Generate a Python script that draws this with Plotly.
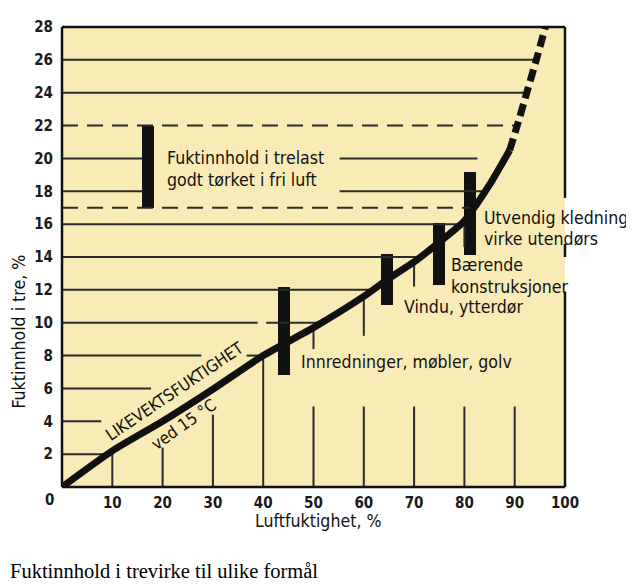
import numpy as np
import plotly.graph_objects as go

# ---- data ----
rh_solid = [0, 10, 20, 30, 40, 50, 60, 65, 70, 75, 80, 85, 89]
mc_solid = [0, 2.2, 4.0, 5.95, 8.0, 9.7, 11.6, 12.7, 13.7, 14.9, 16.2, 18.4, 20.5]
rh_dash = [89, 90.5, 92.4, 94.3, 96.1]
mc_dash = [20.5, 22, 24, 26, 28]

bar_names = ["Trelast", "Innredninger", "Vindu", "Bærende", "Utvendig"]
bar_rh = [17.1, 44.2, 64.6, 74.9, 81.2]
bar_low = [17.0, 6.8, 11.1, 12.3, 14.1]
bar_high = [22.0, 12.2, 14.2, 16.1, 19.2]

x_ticks = [10, 20, 30, 40, 50, 60, 70, 80, 90, 100]
y_ticks = [2, 4, 6, 8, 10, 12, 14, 16, 18, 20, 22, 24, 26, 28]

# ---- helpers ----
rh_all = rh_solid + rh_dash[1:]
mc_all = mc_solid + mc_dash[1:]
def x_at(y):
    return float(np.interp(y, mc_all, rh_all))
def y_at(x):
    return float(np.interp(x, rh_all, mc_all))

C = "curve"
# horizontal grid segments: (y, [(x0, x1), ...], dashed)
hsegs = [
    (2, [(0, C)], False), (4, [(0, 7.8)], False), (6, [(0, 17.7)], False),
    (8, [(0, 27.7), (36.7, C)], False), (10, [(0, 38.9), (40.6, C)], False),
    (12, [(0, C)], False), (14, [(0, C)], False), (16, [(0, C)], False),
    (17, [(0, C)], True), (18, [(0, 16), (55.2, C)], False),
    (20, [(0, 16), (55.2, 82.6)], False), (22, [(0, C)], True),
    (24, [(0, C)], False), (26, [(0, C)], False),
]
# vertical grid segments: (x, [(y0, y1), ...])
vsegs = [
    (10, [(0, C)]), (20, [(0, 2.4)]), (30, [(0, 4.4)]), (40, [(0, C)]),
    (50, [(0, 4.9), (8.4, C)]), (60, [(0, 4.9), (9.2, C)]),
    (70, [(0, 4.9), (12.2, C)]), (80, [(0, 4.9), (14.6, C)]), (90, [(0, 4.9)]),
]
# right frame edge is interrupted where the labels cross it (in y units)
right_frame = [(0, 11.9), (14.0, 14.8), (17.6, 28)]

GRID = "#2b2b2b"
INK = "#111111"
FONT = "DejaVu Sans Condensed, Liberation Sans Narrow, Arial Narrow, sans-serif"
TS = 17.6

fig = go.Figure()

def add_hgrid(dashed):
    xs, ys = [], []
    for y, segs, d in hsegs:
        if d != dashed:
            continue
        for x0, x1 in segs:
            x1v = x_at(y) if x1 == C else x1
            xs += [x0, x1v, None]
            ys += [y, y, None]
    fig.add_trace(go.Scatter(x=xs, y=ys, mode="lines", hoverinfo="skip",
                             line=dict(color=GRID, width=2,
                                       dash="16px,9px" if dashed else "solid"),
                             showlegend=False))

add_hgrid(False)
add_hgrid(True)

vx, vy = [], []
for x, segs in vsegs:
    for y0, y1 in segs:
        y1v = y_at(x) if y1 == C else y1
        vx += [x, x, None]
        vy += [y0, y1v, None]
fig.add_trace(go.Scatter(x=vx, y=vy, mode="lines", hoverinfo="skip",
                         line=dict(color=GRID, width=2), showlegend=False))

# bars of recommended moisture ranges
fig.add_trace(go.Bar(x=bar_rh, y=[h - l for h, l in zip(bar_high, bar_low)],
                     base=bar_low, width=2.4, marker=dict(color=INK, line=dict(width=0)),
                     hovertext=bar_names, showlegend=False))

# equilibrium curve
fig.add_trace(go.Scatter(x=rh_solid, y=mc_solid, mode="lines",
                         line=dict(color=INK, width=7, shape="spline", smoothing=0.6),
                         showlegend=False))
fig.add_trace(go.Scatter(x=rh_dash, y=mc_dash, mode="lines",
                         line=dict(color=INK, width=7, dash="12px,6px", shape="spline",
                                   smoothing=0.6),
                         showlegend=False))

def note(text, x, y, size=TS, angle=0, xanchor="left", xref="x", yref="y", family=FONT,
         color=INK):
    fig.add_annotation(text=text, x=x, y=y, xref=xref, yref=yref, showarrow=False,
                       xanchor=xanchor, yanchor="middle", textangle=angle,
                       font=dict(family=family, size=size, color=color))

note("Fuktinnhold i trelast", 20.5, 20.05)
note("godt tørket i fri luft", 20.5, 18.7)
note("Utvendig kledning,", 83.5, 16.4)
note("virke utendørs", 83.5, 15.1)
note("Bærende", 77.0, 13.5)
note("konstruksjoner", 77.0, 12.2)
note("Vindu, ytterdør", 67.5, 10.95)
note("Innredninger, møbler, golv", 47.2, 7.6)
note("LIKEVEKTSFUKTIGHET", 22.4, 5.8, size=16.6, angle=-34, xanchor="center")
note("ved 15 °C", 24.2, 3.85, size=16.8, angle=-35, xanchor="center")

# texts outside the plotting area use paper coordinates
note("Luftfuktighet, %", 0.509, -0.073, size=TS, xanchor="center",
     xref="paper", yref="paper")
note("Fuktinnhold i tre, %", -0.0845, 0.339, size=TS, angle=-90, xanchor="center",
     xref="paper", yref="paper")
fig.add_annotation(text="<b>0</b>", x=-0.025, y=-0.0286, xref="paper", yref="paper",
                   showarrow=False, xanchor="center", yanchor="middle",
                   font=dict(family=FONT, size=15, color="#1a1a1a"))
note("Fuktinnhold i trevirke til ulike formål", -0.108, -0.183, size=20.5,
     xref="paper", yref="paper", family="Liberation Serif, DejaVu Serif, serif",
     color="#000000")

# frame (the right edge has gaps where labels run across it)
frame = [
    dict(type="line", xref="paper", yref="paper", x0=0, x1=0, y0=0, y1=1),
    dict(type="line", xref="paper", yref="paper", x0=0, x1=1, y0=0, y1=0),
    dict(type="line", xref="paper", yref="paper", x0=0, x1=1, y0=1, y1=1),
]
for y0, y1 in right_frame:
    frame.append(dict(type="line", xref="paper", yref="y", x0=1, x1=1, y0=y0, y1=y1))
for s in frame:
    s["line"] = dict(color=INK, width=2.5)
    s["layer"] = "above"

# the page body has an 8px margin, so the figure is offset by 8px
fig.update_layout(
    width=626, height=577,
    margin=dict(l=54, r=69, t=10, b=98),
    paper_bgcolor="white", plot_bgcolor="#F9EBB5",
    bargap=0,
    font=dict(family=FONT, color="#1a1a1a"),
    shapes=frame,
)
fig.update_xaxes(range=[0, 100], tickvals=x_ticks, ticks="", showgrid=False,
                 zeroline=False, showline=False,
                 tickfont=dict(family=FONT, size=15, color="#1a1a1a", weight="bold"),
                 ticklabelstandoff=5)
fig.update_yaxes(range=[0, 28], tickvals=y_ticks, ticks="", showgrid=False,
                 zeroline=False, showline=False,
                 tickfont=dict(family=FONT, size=15, color="#1a1a1a", weight="bold"),
                 ticklabelstandoff=8)

fig.write_html("out.html")
